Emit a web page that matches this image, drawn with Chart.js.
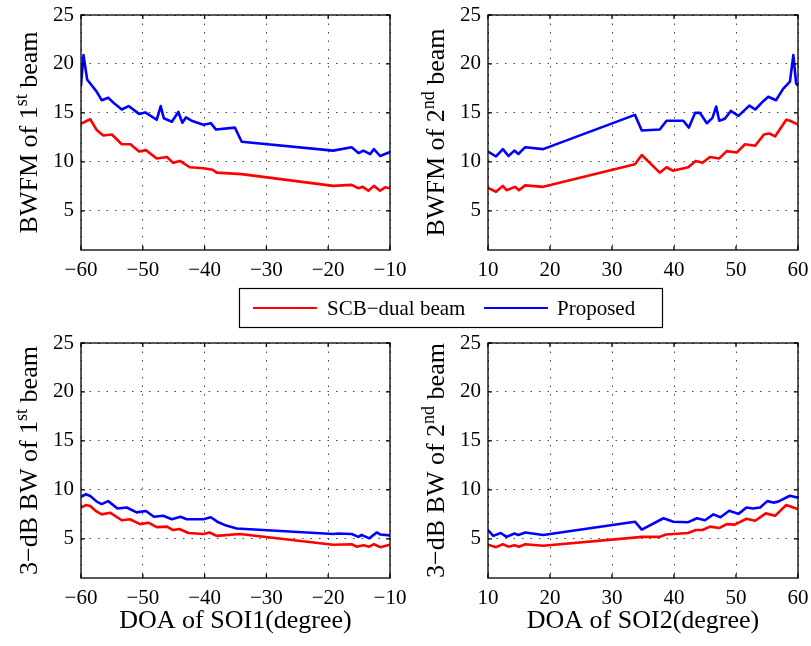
<!DOCTYPE html>
<html>
<head>
<meta charset="utf-8">
<script src="https://cdn.jsdelivr.net/npm/chart.js@4.4.1/dist/chart.umd.min.js"></script>
<style>
  html, body { margin: 0; padding: 0; background: #fff; }
  #wrap { position: relative; width: 811px; height: 646px; overflow: hidden; }
  #wrap canvas { position: absolute; }
  #legend { z-index: 5; }
</style>
</head>
<body>
<div id="wrap">
  <canvas id="c1" width="410" height="300" style="left:0;top:0"></canvas>
  <canvas id="c2" width="406" height="300" style="left:405px;top:0"></canvas>
  <canvas id="c3" width="410" height="318" style="left:0;top:328px"></canvas>
  <canvas id="c4" width="406" height="318" style="left:405px;top:328px"></canvas>
  <canvas id="legend" width="426" height="42" style="left:238px;top:287px"></canvas>
</div>
<script>
// ---- data: [DOA, value] pairs ----
const soi1Ticks = [-60, -50, -40, -30, -20, -10];
const soi2Ticks = [10, 20, 30, 40, 50, 60];
const valueTicks = [5, 10, 15, 20, 25];
const seriesNames = ['SCB\u2212dual beam', 'Proposed'];

// BWFM, 1st beam
const bwfm1Scb = [[-60,13.9],[-58.5,14.35],[-57.45,13.25],[-56.4,12.7],[-55,12.8],[-53.4,11.8],[-52,11.8],[-50.6,11.05],
  [-49.5,11.2],[-47.75,10.35],[-46.1,10.5],[-45.1,9.9],[-44,10.1],[-42.4,9.45],[-40.2,9.35],[-38.7,9.2],[-38.05,8.9],
  [-34,8.75],[-19.2,7.55],[-16.2,7.65],[-15.1,7.3],[-14.4,7.45],[-13.5,7.05],[-12.6,7.55],[-11.6,7.05],[-10.8,7.4],[-10,7.3]];
const bwfm1Prop = [[-60,17.8],[-59.6,20.9],[-59,18.4],[-58.5,18],[-57.5,17.2],[-56.65,16.3],[-55.6,16.55],[-54.5,15.9],
  [-53.4,15.35],[-52.3,15.7],[-50.6,14.9],[-49.6,15.05],[-47.75,14.3],[-47.1,15.7],[-46.6,14.45],[-45.3,14.1],[-44.25,15.1],
  [-43.6,14],[-43,14.55],[-42.1,14.2],[-40.2,13.8],[-39,13.95],[-38.15,13.3],[-35.1,13.5],[-34,12.05],[-19.2,11.15],
  [-16.2,11.5],[-15.1,10.9],[-14.3,11.15],[-13.2,10.8],[-12.6,11.3],[-11.6,10.6],[-10.8,10.8],[-10,11]];

// BWFM, 2nd beam
const bwfm2Scb = [[10,7.35],[11.3,6.95],[12.4,7.55],[13,7.1],[14.35,7.45],[15,7.1],[16,7.6],[18.9,7.45],[33.7,9.75],
  [34.8,10.7],[37.7,8.9],[38.8,9.45],[39.8,9.1],[42.3,9.45],[43.5,10.1],[44.6,9.9],[45.8,10.5],[47.3,10.35],[48.5,11.1],
  [50.1,10.95],[51.45,11.8],[53.1,11.65],[54.5,12.8],[55.4,12.9],[56.3,12.6],[58.1,14.3],[58.7,14.2],[59.7,13.9],[60,13.85]];
const bwfm2Prop = [[10,11.05],[11.3,10.55],[12.4,11.3],[13.3,10.6],[14.25,11.15],[14.9,10.8],[16,11.5],[18.9,11.3],
  [33.7,14.8],[34.8,13.2],[37.7,13.3],[38.8,14.2],[41.5,14.2],[42.4,13.5],[43.4,15],[44.2,15],[45.3,13.95],[46.2,14.5],
  [46.8,15.65],[47.3,14.2],[48.2,14.4],[49.15,15.2],[50.4,14.7],[52.15,15.75],[53.1,15.35],[54.4,16.2],[55.2,16.65],
  [56.45,16.3],[57.6,17.45],[58.7,18.2],[59.25,20.9],[59.7,18],[60,17.8]];

// 3-dB BW, 1st beam
const bw1Scb = [[-60,8.2],[-59.2,8.45],[-58.5,8.35],[-57.5,7.8],[-56.65,7.5],[-55.3,7.67],[-53.4,6.9],[-52.1,7],[-50.45,6.5],
  [-49.1,6.65],[-47.75,6.2],[-46.1,6.25],[-45.1,5.9],[-44.1,6],[-42.6,5.6],[-40.2,5.5],[-39.2,5.65],[-38.05,5.3],[-34.3,5.5],
  [-19.2,4.4],[-16.2,4.45],[-15.4,4.2],[-14.3,4.35],[-13.35,4.2],[-12.6,4.45],[-11.6,4.15],[-10,4.4]];
const bw1Prop = [[-60,9.3],[-59.2,9.55],[-58.5,9.37],[-57.45,8.8],[-56.65,8.55],[-55.6,8.85],[-54.1,8.1],[-52.6,8.2],[-51,7.7],
  [-49.5,7.85],[-48.2,7.25],[-46.7,7.35],[-45.3,7],[-43.9,7.25],[-42.9,7],[-40.2,7],[-39,7.2],[-37.95,6.75],[-36.5,6.35],
  [-34.8,6.05],[-19.2,5.5],[-18.4,5.55],[-16.2,5.5],[-15.1,5.2],[-14.6,5.4],[-13.35,5.05],[-12.15,5.65],[-11.6,5.45],[-10,5.35]];

// 3-dB BW, 2nd beam
const bw2Scb = [[10,4.4],[11.3,4.15],[12.4,4.45],[13.3,4.2],[14.25,4.35],[15,4.2],[16,4.45],[18.9,4.3],[34,5.15],[34.8,5.2],
  [37.7,5.2],[38.7,5.45],[42.3,5.6],[43.5,5.9],[44.6,5.9],[45.8,6.25],[47.3,6.1],[48.5,6.5],[49.8,6.45],[51.7,7.05],
  [53.1,6.85],[54.8,7.6],[56.3,7.35],[58.1,8.45],[59.7,8.1],[60,8.05]];
const bw2Prop = [[10,5.9],[10.85,5.3],[12.05,5.6],[13,5.2],[14.25,5.55],[14.9,5.4],[16,5.65],[18.9,5.4],[33.7,6.75],
  [34.8,5.95],[38.3,7.1],[39.9,6.75],[42.3,6.7],[43.7,7.1],[45,6.9],[46.35,7.5],[47.5,7.2],[48.9,7.87],[50.4,7.55],
  [51.7,8.2],[52.7,8.1],[53.9,8.2],[55.05,8.85],[56,8.7],[56.8,8.8],[58.7,9.4],[59.7,9.25],[60,9.2]];

const RED = '#ff0000', BLUE = '#0000ff';
const SERIF = '"Liberation Serif", serif';

const toXY = arr => arr.map(p => ({ x: p[0], y: p[1] }));
const fmt = v => (v < 0 ? '\u2212' + Math.abs(v) : String(v));

// box, inward ticks and axis titles (MATLAB look)
const framePlugin = {
  id: 'frame',
  afterDraw(chart, args, opts) {
    const { ctx, chartArea: a, scales: { x, y } } = chart;
    ctx.save();
    ctx.strokeStyle = '#000';
    ctx.lineWidth = 1.3;
    ctx.strokeRect(a.left, a.top, a.right - a.left, a.bottom - a.top);
    ctx.beginPath();
    x.ticks.forEach(t => {
      const px = x.getPixelForValue(t.value);
      ctx.moveTo(px, a.bottom); ctx.lineTo(px, a.bottom - 4);
      ctx.moveTo(px, a.top); ctx.lineTo(px, a.top + 4);
    });
    y.ticks.forEach(t => {
      const py = y.getPixelForValue(t.value);
      ctx.moveTo(a.left, py); ctx.lineTo(a.left + 4, py);
      ctx.moveTo(a.right, py); ctx.lineTo(a.right - 4, py);
    });
    ctx.stroke();

    // y title with superscript
    ctx.fillStyle = '#000';
    ctx.textBaseline = 'alphabetic';
    ctx.textAlign = 'left';
    const big = '26px ' + SERIF, small = '18px ' + SERIF;
    const [pre, sup, post] = opts.ytitle;
    ctx.font = big;
    const w1 = ctx.measureText(pre).width, w3 = ctx.measureText(post).width;
    ctx.font = small;
    const w2 = ctx.measureText(sup).width;
    const total = w1 + w2 + w3;
    ctx.translate(a.left - 44, (a.top + a.bottom) / 2);
    ctx.rotate(-Math.PI / 2);
    let cx = -total / 2;
    ctx.font = big; ctx.fillText(pre, cx, 0); cx += w1;
    ctx.font = small; ctx.fillText(sup, cx, -10); cx += w2;
    ctx.font = big; ctx.fillText(post, cx, 0);
    ctx.restore();

    if (opts.xtitle) {
      ctx.save();
      ctx.fillStyle = '#000';
      ctx.font = '26px ' + SERIF;
      ctx.textAlign = 'center';
      ctx.textBaseline = 'middle';
      ctx.fillText(opts.xtitle, (a.left + a.right) / 2, a.bottom + 43);
      ctx.restore();
    }
  }
};

function makeChart(id, cfg) {
  const tickFont = { family: SERIF, size: 21 };
  const line = { borderWidth: 2.6, pointRadius: 0, tension: 0, borderJoinStyle: 'round', borderCapStyle: 'round' };
  return new Chart(document.getElementById(id), {
    type: 'line',
    data: {
      datasets: [
        { label: seriesNames[0], data: toXY(cfg.red), borderColor: RED, ...line },
        { label: seriesNames[1], data: toXY(cfg.blue), borderColor: BLUE, ...line },
      ],
    },
    options: {
      responsive: false, animation: false, events: [],
      layout: { padding: { top: cfg.padTop, right: cfg.padRight, left: 0, bottom: 0 } },
      plugins: {
        legend: { display: false }, tooltip: { enabled: false },
        frame: { ytitle: cfg.ytitle, xtitle: cfg.xtitle },
      },
      scales: {
        x: {
          type: 'linear', min: cfg.xTicks[0], max: cfg.xTicks[cfg.xTicks.length - 1],
          afterBuildTicks: s => { s.ticks = cfg.xTicks.map(v => ({ value: v })); },
          afterFit: s => { s.height = cfg.xAxisH; s.paddingLeft = 0; s.paddingRight = 0; },
          grid: { color: '#444', lineWidth: 1, drawTicks: false },
          border: { display: false, dash: [1.5, 7] },
          ticks: { padding: 8, color: '#000', font: tickFont, maxRotation: 0, autoSkip: false, callback: v => fmt(v) },
        },
        y: {
          type: 'linear', min: 1, max: 25,
          afterBuildTicks: s => { s.ticks = valueTicks.map(v => ({ value: v })); },
          afterFit: s => { s.width = cfg.yAxisW; s.paddingTop = 0; s.paddingBottom = 0; },
          grid: { color: '#444', lineWidth: 1, drawTicks: false },
          border: { display: false, dash: [1.5, 7] },
          ticks: { padding: 7, color: '#000', font: tickFont, autoSkip: false, callback: v => fmt(v) },
        },
      },
    },
    plugins: [framePlugin],
  });
}

const c1 = makeChart('c1', { red: bwfm1Scb, blue: bwfm1Prop, xTicks: soi1Ticks, padTop: 15, padRight: 20, yAxisW: 81, xAxisH: 50,
  ytitle: ['BWFM of 1', 'st', ' beam'] });
makeChart('c2', { red: bwfm2Scb, blue: bwfm2Prop, xTicks: soi2Ticks, padTop: 15, padRight: 13, yAxisW: 83, xAxisH: 50,
  ytitle: ['BWFM of 2', 'nd', ' beam'] });
makeChart('c3', { red: bw1Scb, blue: bw1Prop, xTicks: soi1Ticks, padTop: 15, padRight: 20, yAxisW: 81, xAxisH: 68,
  ytitle: ['3\u2212dB BW of 1', 'st', ' beam'], xtitle: 'DOA of SOI1(degree)' });
makeChart('c4', { red: bw2Scb, blue: bw2Prop, xTicks: soi2Ticks, padTop: 15, padRight: 13, yAxisW: 83, xAxisH: 68,
  ytitle: ['3\u2212dB BW of 2', 'nd', ' beam'], xtitle: 'DOA of SOI2(degree)' });

// shared legend box between the two rows, taken from the first chart's datasets
(function drawLegend() {
  const lg = document.getElementById('legend').getContext('2d');
  lg.fillStyle = '#fff';
  lg.fillRect(0, 0, 426, 42);
  lg.strokeStyle = '#000';
  lg.lineWidth = 1.2;
  lg.strokeRect(1.5, 1.5, 423, 39);
  const keyX = [15, 246], textX = [89, 319];
  lg.font = '21px ' + SERIF;
  lg.textBaseline = 'middle';
  c1.data.datasets.forEach((ds, i) => {
    lg.strokeStyle = ds.borderColor;
    lg.lineWidth = 2.2;
    lg.beginPath();
    lg.moveTo(keyX[i], 21); lg.lineTo(keyX[i] + 64, 21);
    lg.stroke();
    lg.fillStyle = '#000';
    lg.fillText(ds.label, textX[i], 22);
  });
})();
</script>
</body>
</html>
